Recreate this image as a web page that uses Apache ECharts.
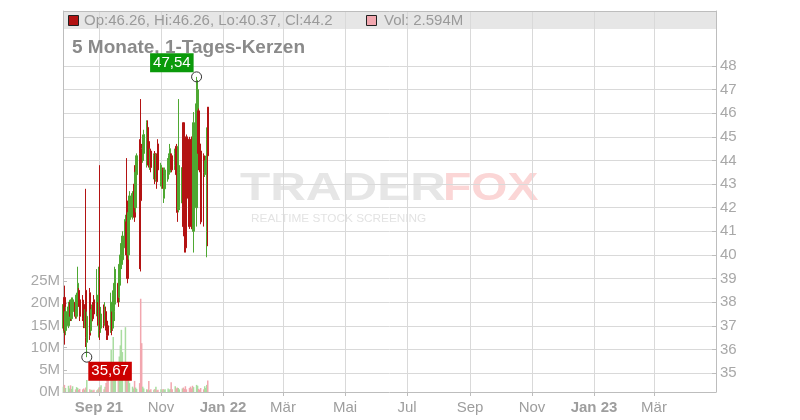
<!DOCTYPE html>
<html>
<head>
<meta charset="utf-8">
<script src="https://cdn.jsdelivr.net/npm/echarts@6/dist/echarts.min.js"></script>
<style>html,body{margin:0;padding:0;background:#fff}#c{width:800px;height:420px}</style>
</head>
<body>
<div id="c"></div>
<script>
const dates = ['2021-07-28','2021-07-29','2021-07-30','2021-08-02','2021-08-03','2021-08-04','2021-08-05','2021-08-06','2021-08-09','2021-08-10','2021-08-11','2021-08-12','2021-08-13','2021-08-16','2021-08-17','2021-08-18','2021-08-19','2021-08-20','2021-08-23','2021-08-24','2021-08-25','2021-08-26','2021-08-27','2021-08-30','2021-08-31','2021-09-01','2021-09-02','2021-09-03','2021-09-06','2021-09-07','2021-09-08','2021-09-09','2021-09-10','2021-09-13','2021-09-14','2021-09-15','2021-09-16','2021-09-17','2021-09-20','2021-09-21','2021-09-22','2021-09-23','2021-09-24','2021-09-27','2021-09-28','2021-09-29','2021-09-30','2021-10-01','2021-10-04','2021-10-05','2021-10-06','2021-10-07','2021-10-08','2021-10-11','2021-10-12','2021-10-13','2021-10-14','2021-10-15','2021-10-18','2021-10-19','2021-10-20','2021-10-21','2021-10-22','2021-10-25','2021-10-26','2021-10-27','2021-10-28','2021-10-29','2021-11-01','2021-11-02','2021-11-03','2021-11-04','2021-11-05','2021-11-08','2021-11-09','2021-11-10','2021-11-11','2021-11-12','2021-11-15','2021-11-16','2021-11-17','2021-11-18','2021-11-19','2021-11-22','2021-11-23','2021-11-24','2021-11-25','2021-11-26','2021-11-29','2021-11-30','2021-12-01','2021-12-02','2021-12-03','2021-12-06','2021-12-07','2021-12-08','2021-12-09','2021-12-10','2021-12-13','2021-12-14','2021-12-15','2021-12-16','2021-12-17'];
const opens = [36.9,38.2,36.8,37.0,37.3,38.0,37.3,37.6,38.0,37.4,37.9,38.5,38.1,38.0,37.9,37.0,38.5,36.3,38.4,36.8,37.2,37.9,38.1,37.5,37.9,37.0,37.6,36.9,37.7,37.1,37.6,37.2,37.0,36.8,37.4,36.9,37.6,38.0,38.8,38.2,38.9,39.6,39.8,40.3,41.4,41.0,40.0,41.5,41.6,42.0,43.0,42.0,43.4,44.3,44.0,44.5,44.0,44.3,43.8,45.4,44.8,43.8,44.4,43.3,44.3,43.2,44.2,44.7,43.1,42.9,43.6,42.4,42.8,43.3,43.6,43.5,44.2,44.2,43.8,44.6,43.6,41.9,42.0,42.2,45.6,44.0,44.3,45.0,44.9,44.3,44.8,45.0,41.0,42.0,44.6,46.1,44.7,44.4,44.2,43.4,43.8,41.0,46.26];
const closes = [37.9,36.8,37.6,37.8,38.0,37.4,38.1,38.1,37.4,38.3,38.8,38.0,37.4,37.3,37.0,37.6,36.5,37.4,36.6,37.5,37.8,37.3,37.5,38.3,37.2,38.6,36.8,37.5,37.1,37.8,36.9,36.6,36.6,38.0,36.8,38.3,38.8,39.0,38.0,39.6,40.0,40.4,40.8,41.5,40.0,39.0,41.8,42.5,42.6,42.5,41.6,43.5,44.2,43.0,42.3,44.0,44.9,45.1,45.6,44.0,44.2,44.4,43.7,44.2,43.3,44.2,43.1,43.6,43.8,43.5,43.0,43.4,43.6,44.0,44.2,44.5,43.8,43.6,44.3,43.4,41.8,44.6,43.5,43.7,41.2,40.8,40.3,42.4,41.2,42.1,42.8,41.1,45.6,46.4,47.0,44.3,43.6,41.4,43.5,43.9,44.1,44.9,44.2];
const lows = [36.7,36.2,36.6,36.9,37.1,37.2,37.2,37.5,37.3,37.3,37.8,37.8,37.2,37.2,36.9,36.9,36.1,35.67,36.4,36.7,37.1,37.2,37.4,37.4,37.0,36.5,36.4,36.7,36.9,37.0,36.8,36.4,36.4,36.7,36.6,36.8,37.2,37.9,37.8,38.0,38.7,39.4,39.6,40.1,39.9,38.8,39.8,41.3,41.5,41.8,41.4,41.8,43.2,39.4,39.3,43.8,43.9,44.0,43.7,43.8,43.7,43.6,43.5,43.2,43.0,43.1,42.8,43.5,42.9,42.8,42.8,42.2,42.6,43.1,43.2,43.4,43.6,43.5,43.6,43.3,41.4,41.8,41.9,42.0,40.8,40.1,40.1,42.2,41.1,42.0,42.6,41.0,40.1,41.2,44.4,43.6,43.5,41.3,41.2,43.3,43.7,39.9,40.37];
const highs = [38.0,38.7,37.8,38.0,38.1,38.1,38.2,38.2,38.1,38.4,39.5,38.6,38.3,38.3,38.1,37.7,42.8,37.6,38.6,37.7,37.9,38.0,38.3,39.4,38.0,39.5,43.8,37.8,37.9,38.0,37.8,37.3,37.1,38.4,37.6,38.5,39.5,39.4,39.0,39.8,40.5,40.8,41.0,41.7,44.1,42.3,42.0,42.7,42.7,42.7,43.8,43.7,44.3,44.9,46.6,44.7,45.1,45.3,45.7,45.7,44.9,44.5,44.5,44.3,44.4,44.3,44.3,44.9,43.9,43.6,43.7,43.7,43.7,44.1,44.3,44.7,44.3,44.3,44.5,44.7,43.7,46.6,43.8,43.8,45.6,44.2,44.4,45.1,45.0,44.6,44.9,45.1,46.05,47.54,47.4,46.2,44.7,44.5,44.3,44.0,44.2,45.4,46.26];
const volumes = [1.2,1.6,0.9,1.4,0.8,1.5,0.7,1.3,0.6,1.1,0.9,0.5,0.7,0.6,0.8,0.5,1.0,2.7,0.6,0.4,0.5,0.3,0.5,0.4,0.6,1.0,1.1,1.5,0.6,1.2,2.0,5.5,3.5,9.5,4.0,12.4,6.0,4.0,2.5,8.0,10.5,14.0,9.0,14.6,5.0,3.0,4.0,2.0,1.2,0.8,2.5,1.0,0.7,2.0,21.0,11.0,1.2,0.8,0.6,0.5,2.5,0.4,0.6,0.5,0.7,1.2,0.4,0.5,0.6,0.4,0.7,0.5,0.6,0.8,0.5,0.7,2.2,0.6,1.3,0.8,1.0,0.9,0.6,0.8,1.0,0.7,1.3,0.6,0.9,1.2,0.8,1.4,1.1,1.6,1.4,0.7,0.5,0.9,0.6,1.3,0.9,1.6,2.594];
const priceTicks = [35,36,37,38,39,40,41,42,43,44,45,46,47,48];
const volumeTicks = [0,5,10,15,20,25];
const monthTicks = ['2021-09-01','2021-11-01','2022-01-01','2022-03-01','2022-05-01','2022-07-01','2022-09-01','2022-11-01','2023-01-01','2023-03-01'];
const monthLabels = ['Sep 21','Nov','Jan 22','Mär','Mai','Jul','Sep','Nov','Jan 23','Mär'];
const monthBold = [true,false,true,false,false,false,false,false,true,false];
const titleText = '5 Monate, 1-Tages-Kerzen';

const ts = s => { const p = s.split('-').map(Number); return Date.UTC(p[0], p[1]-1, p[2]); };
const DAY = 864e5;
const xMin = ts('2021-09-01') - 35.42 * DAY;
const xMax = ts('2023-03-01') + 61.0 * DAY;
const tickTs = monthTicks.map(ts);
const labelFor = v => {
  let best = -1, bd = Infinity;
  tickTs.forEach((t, i) => { const d = Math.abs(t - v); if (d < bd) { bd = d; best = i; } });
  if (best < 0 || bd > DAY) return '';
  return monthBold[best] ? '{b|' + monthLabels[best] + '}' : monthLabels[best];
};

const GREEN = '#4ea832', RED = '#b31313';
const candleData = dates.map((d, i) => [ts(d), opens[i], closes[i], lows[i], highs[i]]);
const volData = dates.map((d, i) => ({
  value: [ts(d), volumes[i]],
  itemStyle: { color: closes[i] >= opens[i] ? '#a9dda0' : '#f2a7af' }
}));

let maxI = 0, minI = 0;
highs.forEach((h, i) => { if (h > highs[maxI]) maxI = i; });
lows.forEach((l, i) => { if (l < lows[minI]) minI = i; });
const fmt = v => v.toFixed(2).replace('.', ',');
const last = dates.length - 1;
const legendText = 'Op:' + opens[last] + ', Hi:' + highs[last] + ', Lo:' + lows[last] + ', Cl:' + closes[last];
const volText = 'Vol: ' + volumes[last] + 'M';

const FONT = '"Liberation Sans", Arial, sans-serif';
const GL = 63, GR = 716, GT = 11, GB = 392;
const pMin = 35 - (GB - 373) / 23.615;
const pMax = 48 + (66 - GT) / 23.615;
const vMax = (GB - GT) / 22.2 * 5;

const chart = echarts.init(document.getElementById('c'), null, { renderer: 'canvas' });
chart.setOption({
  animation: false,
  backgroundColor: '#fff',
  textStyle: { fontFamily: FONT },
  grid: { left: GL, right: 800 - GR, top: GT, bottom: 420 - GB, containLabel: false },
  xAxis: {
    type: 'value', min: xMin, max: xMax,
    axisLine: { show: true, lineStyle: { color: '#bdbdbd', width: 1 } },
    axisTick: { show: true, length: 4, lineStyle: { color: '#bdbdbd' }, customValues: tickTs },
    axisLabel: {
      customValues: tickTs, color: '#9e9e9e', fontSize: 15, fontFamily: FONT, margin: 8,
      formatter: v => labelFor(v),
      rich: { b: { fontWeight: 'bold', color: '#9e9e9e', fontSize: 15, fontFamily: FONT } }
    },
    splitLine: { show: true, lineStyle: { color: '#d9d9d9', width: 1 } }
  },
  yAxis: [
    {
      type: 'value', position: 'right', min: pMin, max: pMax,
      axisLine: { show: true, lineStyle: { color: '#bdbdbd' } },
      axisTick: { show: true, inside: true, length: 4, lineStyle: { color: '#bdbdbd' }, customValues: priceTicks },
      axisLabel: { customValues: priceTicks, color: '#a8a8a8', fontSize: 15, fontFamily: FONT, margin: 4 },
      splitLine: { show: true, lineStyle: { color: '#d9d9d9', width: 1 } }
    },
    {
      type: 'value', position: 'left', min: 0, max: vMax,
      axisLine: { show: true, lineStyle: { color: '#bdbdbd' } },
      axisTick: { show: true, inside: true, length: 4, lineStyle: { color: '#bdbdbd' }, customValues: volumeTicks },
      axisLabel: { customValues: volumeTicks, color: '#a8a8a8', fontSize: 15, fontFamily: FONT, margin: 3, formatter: v => v + 'M' },
      splitLine: { show: false }
    }
  ],
  graphic: [
    { type: 'rect', z: -20, silent: true, shape: { x: GL, y: GT, width: GR - GL, height: 18 }, style: { fill: '#e6e6e6' } },
    { type: 'line', z: 5, silent: true, shape: { x1: GL, y1: GT + 0.5, x2: GR, y2: GT + 0.5 }, style: { stroke: '#bdbdbd', lineWidth: 1 } },
    { type: 'rect', z: 6, shape: { x: 68.5, y: 15.5, width: 10, height: 10 }, style: { fill: '#b31313', stroke: '#222', lineWidth: 1 } },
    { type: 'text', z: 6, style: { x: 84, y: 21, text: legendText, fill: '#9a9a9a', font: '15px ' + FONT, verticalAlign: 'middle' } },
    { type: 'rect', z: 6, shape: { x: 366.5, y: 15.5, width: 10, height: 10 }, style: { fill: '#f2a7af', stroke: '#222', lineWidth: 1 } },
    { type: 'text', z: 6, style: { x: 384, y: 21, text: volText, fill: '#9a9a9a', font: '15px ' + FONT, verticalAlign: 'middle' } },
    { type: 'text', z: 6, style: { x: 72, y: 48, text: titleText, fill: '#8a8a8a', font: 'bold 19px ' + FONT, verticalAlign: 'middle' } },
    { type: 'text', z: -5, silent: true, x: 240, y: 190, scaleX: 1.3, style: { x: 0, y: 0, text: 'TRADER', fill: '#e6e6e6', font: 'bold 38px ' + FONT, verticalAlign: 'middle' } },
    { type: 'text', z: -5, silent: true, x: 443, y: 190, scaleX: 1.22, style: { x: 0, y: 0, text: 'FOX', fill: '#fbd6d6', font: 'bold 38px ' + FONT, verticalAlign: 'middle' } },
    { type: 'text', z: -5, silent: true, x: 251, y: 219, scaleX: 1.18, style: { x: 0, y: 0, text: 'REALTIME STOCK SCREENING', fill: '#e3e3e3', font: '10px ' + FONT, verticalAlign: 'middle' } }
  ],
  series: [
    {
      type: 'bar', name: 'Vol', xAxisIndex: 0, yAxisIndex: 1, data: volData,
      barWidth: 1.5, z: 1
    },
    {
      type: 'candlestick', name: 'Kurs', xAxisIndex: 0, yAxisIndex: 0, data: candleData,
      barWidth: 1.8, z: 2,
      itemStyle: { color: GREEN, color0: RED, borderColor: GREEN, borderColor0: RED, borderWidth: 1 },
      markPoint: {
        symbol: 'circle', symbolSize: 10, z: 10,
        itemStyle: { color: 'rgba(255,255,255,0)', borderColor: '#333', borderWidth: 1 },
        data: [
          { coord: [ts(dates[maxI]), highs[maxI]],
            label: { show: true, formatter: fmt(highs[maxI]), position: [-41, -18], align: 'left', verticalAlign: 'top',
              color: '#fff', backgroundColor: '#0a9a0a', padding: [2, 3, 2, 3], fontSize: 15, lineHeight: 15, fontFamily: FONT } },
          { coord: [ts(dates[minI]), lows[minI]],
            label: { show: true, formatter: fmt(lows[minI]), position: [7, 10], align: 'left', verticalAlign: 'top',
              color: '#fff', backgroundColor: '#cc0000', padding: [2, 3, 2, 3], fontSize: 15, lineHeight: 15, fontFamily: FONT } }
        ]
      }
    }
  ]
});
</script>
</body>
</html>
